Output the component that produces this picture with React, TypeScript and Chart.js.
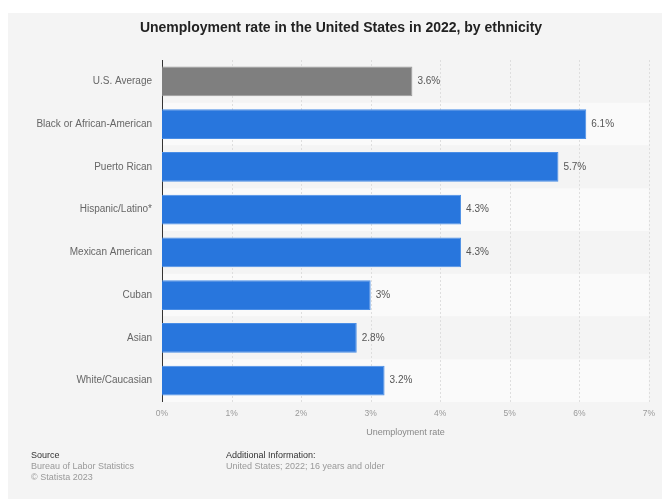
import React, { useEffect, useRef } from "react";
import { Chart, registerables } from "chart.js";

Chart.register(...registerables);

const categories = [
  "U.S. Average",
  "Black or African-American",
  "Puerto Rican",
  "Hispanic/Latino*",
  "Mexican American",
  "Cuban",
  "Asian",
  "White/Caucasian",
];
const values = [3.6, 6.1, 5.7, 4.3, 4.3, 3, 2.8, 3.2];
const barColors = ["#7f7f7f", "#2876dd", "#2876dd", "#2876dd", "#2876dd", "#2876dd", "#2876dd", "#2876dd"];
const borderColors = ["#9a9a9a", "#4a8ee6", "#4a8ee6", "#4a8ee6", "#4a8ee6", "#4a8ee6", "#4a8ee6", "#4a8ee6"];
const xTicks = [0, 1, 2, 3, 4, 5, 6, 7];

const FONT = "'Liberation Sans', Arial, Helvetica, sans-serif";

const bandsPlugin = {
  id: "bands",
  beforeDatasetsDraw(chart: any) {
    const { ctx, chartArea, scales } = chart;
    const y = scales.y;
    ctx.save();
    categories.forEach((_, i) => {
      const c = y.getPixelForValue(i);
      const h = (chartArea.bottom - chartArea.top) / categories.length;
      ctx.fillStyle = i % 2 === 1 ? "#fafafa" : "#f4f4f4";
      ctx.fillRect(chartArea.left, c - h / 2, chartArea.right - chartArea.left, h);
    });
    ctx.restore();
  },
};

const gridPlugin = {
  id: "dottedGrid",
  beforeDatasetsDraw(chart: any) {
    const { ctx, chartArea, scales } = chart;
    const x = scales.x;
    ctx.save();
    ctx.strokeStyle = "#dedede";
    ctx.lineWidth = 1;
    ctx.setLineDash([2, 2]);
    xTicks.forEach((t) => {
      if (t === 0) return;
      const px = Math.round(x.getPixelForValue(t)) + 0.5;
      ctx.beginPath();
      ctx.moveTo(px, chartArea.top);
      ctx.lineTo(px, chartArea.bottom);
      ctx.stroke();
    });
    ctx.setLineDash([]);
    ctx.strokeStyle = "#333333";
    const lx = Math.round(chartArea.left) + 0.5;
    ctx.beginPath();
    ctx.moveTo(lx, chartArea.top);
    ctx.lineTo(lx, chartArea.bottom);
    ctx.stroke();
    ctx.restore();
  },
};

const labelPlugin = {
  id: "valueLabels",
  afterDatasetsDraw(chart: any) {
    const { ctx } = chart;
    const meta = chart.getDatasetMeta(0);
    ctx.save();
    ctx.font = `10px ${FONT}`;
    ctx.fillStyle = "#555555";
    ctx.textAlign = "left";
    ctx.textBaseline = "middle";
    meta.data.forEach((bar: any, i: number) => {
      ctx.fillText(`${values[i]}%`, bar.x + 5, bar.y);
    });
    ctx.restore();
  },
};

function BarChart() {
  const ref = useRef<HTMLCanvasElement | null>(null);
  useEffect(() => {
    if (!ref.current) return;
    const chart = new Chart(ref.current, {
      type: "bar",
      data: {
        labels: categories,
        datasets: [
          {
            data: values,
            backgroundColor: barColors,
            borderColor: borderColors,
            borderWidth: 1,
            barPercentage: 0.7,
            categoryPercentage: 1,
          },
        ],
      },
      options: {
        indexAxis: "y",
        animation: false,
        responsive: false,
        maintainAspectRatio: false,
        layout: { padding: { top: 60, right: 13, bottom: 57, left: 0 } },
        plugins: {
          legend: { display: false },
          tooltip: { enabled: false },
          title: { display: false },
        },
        scales: {
          x: {
            min: 0,
            max: 7,
            afterFit: (s: any) => {
              s.height = 40;
            },
            afterBuildTicks: (s: any) => {
              s.ticks = xTicks.map((v) => ({ value: v }));
            },
            grid: { display: false, drawTicks: false },
            border: { display: false },
            ticks: {
              padding: 7,
              color: "#999999",
              font: { family: FONT, size: 8.5 },
              callback: (v: any) => `${v}%`,
            },
            title: {
              display: true,
              text: "Unemployment rate",
              color: "#888888",
              font: { family: FONT, size: 9 },
              padding: { top: 0, bottom: 4 },
            },
          },
          y: {
            afterFit: (s: any) => {
              s.width = 162;
            },
            grid: { display: false, drawTicks: false },
            border: { display: false },
            ticks: {
              padding: 10,
              color: "#666666",
              font: { family: FONT, size: 10 },
            },
          },
        },
      },
      plugins: [bandsPlugin, gridPlugin, labelPlugin],
    });
    return () => chart.destroy();
  }, []);
  return (
    <canvas
      ref={ref}
      width={662}
      height={499}
      style={{ position: "absolute", left: 0, top: 0, width: 662, height: 499 }}
    />
  );
}

export default function App() {
  return (
    <div
      style={{
        position: "fixed",
        left: 0,
        top: 0,
        width: 662,
        height: 499,
        background: "#ffffff",
        overflow: "hidden",
        fontFamily: FONT,
      }}
    >
      <div
        style={{
          position: "absolute",
          left: 8,
          top: 13,
          right: 0,
          bottom: 0,
          background: "#f4f4f4",
        }}
      />
      <BarChart />
      <div
        style={{
          position: "absolute",
          left: 20,
          right: 0,
          top: 18,
          textAlign: "center",
          fontSize: 14,
          fontWeight: "bold",
          color: "#222222",
          lineHeight: "18px",
        }}
      >
        Unemployment rate in the United States in 2022, by ethnicity
      </div>
      <div style={{ position: "absolute", left: 31, top: 450, fontSize: 9, lineHeight: "11px" }}>
        <div style={{ color: "#333333" }}>Source</div>
        <div style={{ color: "#999999" }}>Bureau of Labor Statistics</div>
        <div style={{ color: "#999999" }}>© Statista 2023</div>
      </div>
      <div style={{ position: "absolute", left: 226, top: 450, fontSize: 9, lineHeight: "11px" }}>
        <div style={{ color: "#333333" }}>Additional Information:</div>
        <div style={{ color: "#999999" }}>United States; 2022; 16 years and older</div>
      </div>
    </div>
  );
}
